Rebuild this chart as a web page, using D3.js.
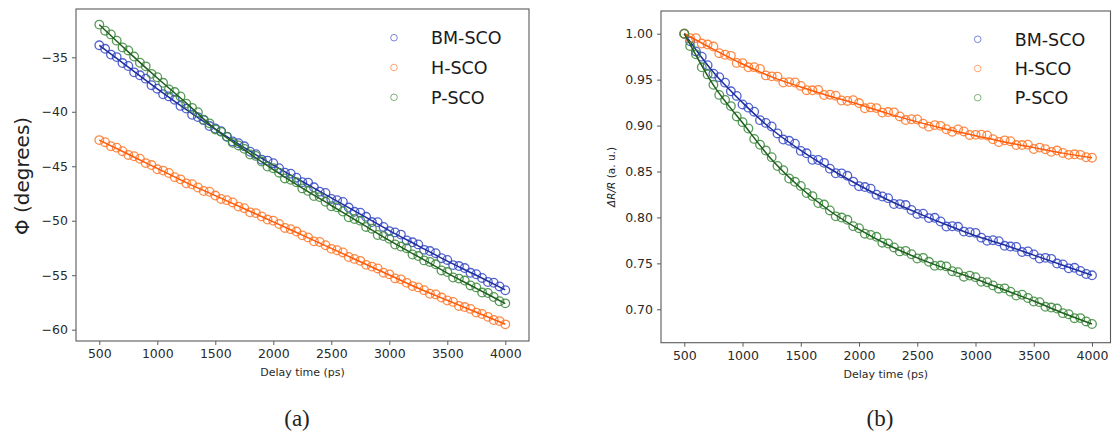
<!DOCTYPE html>
<html>
<head>
<meta charset="utf-8">
<script src="https://cdn.jsdelivr.net/npm/d3@7"></script>
<style>
  body { margin: 0; background: #fff; }
  svg { display: block; font-family: "DejaVu Sans", sans-serif; }
</style>
</head>
<body>
<svg id="chart" width="1113" height="440"></svg>
<script>
// delay times (ps) of the measured points
const delay = [500, 550, 600, 650, 700, 750, 800, 850, 900, 950,
  1000, 1050, 1100, 1150, 1200, 1250, 1300, 1350, 1400, 1450,
  1500, 1550, 1600, 1650, 1700, 1750, 1800, 1850, 1900, 1950,
  2000, 2050, 2100, 2150, 2200, 2250, 2300, 2350, 2400, 2450,
  2500, 2550, 2600, 2650, 2700, 2750, 2800, 2850, 2900, 2950,
  3000, 3050, 3100, 3150, 3200, 3250, 3300, 3350, 3400, 3450,
  3500, 3550, 3600, 3650, 3700, 3750, 3800, 3850, 3900, 3950, 4000];

const seriesNames = ["BM-SCO", "H-SCO", "P-SCO"];

// (a) rotation angle, degrees
const phiBM = [-33.90, -34.22, -34.75, -34.98, -35.53, -35.80, -36.38, -36.65, -36.96, -37.56,
  -37.88, -38.39, -38.59, -38.89, -39.46, -39.71, -40.28, -40.49, -40.77, -41.31,
  -41.54, -41.78, -42.30, -42.72, -42.88, -43.17, -43.67, -43.90, -44.40, -44.48,
  -44.72, -45.18, -45.59, -45.68, -46.05, -46.46, -46.50, -46.93, -47.33, -47.45,
  -48.00, -48.11, -48.28, -48.79, -49.18, -49.26, -49.64, -50.12, -50.13, -50.57,
  -50.95, -51.07, -51.27, -51.81, -51.98, -52.17, -52.67, -52.78, -52.98, -53.44,
  -53.60, -54.07, -54.16, -54.34, -54.78, -54.91, -55.25, -55.62, -55.69, -56.03, -56.38];
const phiH = [-42.60, -42.79, -43.16, -43.29, -43.62, -43.96, -44.08, -44.31, -44.71, -44.89,
  -45.28, -45.40, -45.62, -46.00, -46.20, -46.57, -46.65, -46.95, -47.27, -47.34,
  -47.69, -48.00, -48.11, -48.32, -48.70, -48.85, -49.23, -49.30, -49.60, -49.89,
  -49.99, -50.30, -50.66, -50.77, -50.99, -51.34, -51.53, -51.89, -51.95, -52.25,
  -52.58, -52.71, -52.91, -53.33, -53.50, -53.68, -54.05, -54.21, -54.38, -54.77,
  -54.92, -55.29, -55.38, -55.70, -56.00, -56.12, -56.37, -56.70, -56.76, -57.05,
  -57.32, -57.45, -57.82, -57.92, -58.09, -58.43, -58.56, -58.82, -59.11, -59.21, -59.51];
const phiP = [-32.00, -32.56, -32.90, -33.47, -34.09, -34.37, -34.93, -35.50, -35.83, -36.52,
  -36.83, -37.34, -37.95, -38.19, -38.59, -39.25, -39.64, -40.04, -40.72, -41.06,
  -41.62, -41.84, -42.28, -42.85, -43.09, -43.40, -43.92, -44.05, -44.57, -45.03,
  -45.18, -45.59, -46.12, -46.24, -46.47, -47.03, -47.26, -47.74, -47.83, -48.26,
  -48.67, -48.76, -49.15, -49.68, -49.84, -49.99, -50.57, -50.73, -51.31, -51.41,
  -51.66, -52.18, -52.37, -52.52, -53.10, -53.24, -53.64, -53.78, -54.00, -54.56,
  -54.71, -55.21, -55.31, -55.49, -55.94, -56.12, -56.59, -56.63, -57.00, -57.39, -57.58];

// (b) normalised reflectivity
const drBM = [1.0000, 0.9917, 0.9807, 0.9750, 0.9657, 0.9565, 0.9527, 0.9467, 0.9373, 0.9323,
  0.9230, 0.9195, 0.9151, 0.9059, 0.9029, 0.8990, 0.8914, 0.8848, 0.8834, 0.8803,
  0.8724, 0.8698, 0.8628, 0.8625, 0.8594, 0.8531, 0.8481, 0.8480, 0.8453, 0.8390,
  0.8340, 0.8331, 0.8313, 0.8247, 0.8228, 0.8210, 0.8146, 0.8145, 0.8135, 0.8081,
  0.8038, 0.8041, 0.7993, 0.7996, 0.7956, 0.7901, 0.7904, 0.7898, 0.7846, 0.7839,
  0.7832, 0.7780, 0.7746, 0.7752, 0.7741, 0.7691, 0.7683, 0.7679, 0.7623, 0.7630,
  0.7597, 0.7553, 0.7560, 0.7549, 0.7498, 0.7489, 0.7446, 0.7452, 0.7417, 0.7384, 0.7370];
const drH = [1.0000, 0.9951, 0.9952, 0.9893, 0.9882, 0.9860, 0.9788, 0.9771, 0.9759, 0.9682,
  0.9680, 0.9634, 0.9636, 0.9617, 0.9546, 0.9536, 0.9532, 0.9468, 0.9473, 0.9469,
  0.9432, 0.9385, 0.9384, 0.9389, 0.9333, 0.9336, 0.9325, 0.9273, 0.9268, 0.9276,
  0.9245, 0.9188, 0.9198, 0.9190, 0.9141, 0.9147, 0.9144, 0.9099, 0.9060, 0.9069,
  0.9066, 0.9020, 0.8988, 0.9005, 0.8997, 0.8960, 0.8932, 0.8957, 0.8936, 0.8898,
  0.8899, 0.8900, 0.8892, 0.8851, 0.8821, 0.8839, 0.8830, 0.8788, 0.8788, 0.8792,
  0.8745, 0.8760, 0.8742, 0.8714, 0.8728, 0.8702, 0.8681, 0.8687, 0.8681, 0.8655, 0.8650];
const drP = [1.0000, 0.9865, 0.9775, 0.9634, 0.9557, 0.9444, 0.9334, 0.9279, 0.9212, 0.9099,
  0.9037, 0.8968, 0.8855, 0.8791, 0.8728, 0.8656, 0.8560, 0.8514, 0.8424, 0.8388,
  0.8343, 0.8266, 0.8232, 0.8157, 0.8140, 0.8076, 0.8012, 0.7999, 0.7974, 0.7905,
  0.7883, 0.7823, 0.7810, 0.7789, 0.7725, 0.7716, 0.7673, 0.7630, 0.7636, 0.7599,
  0.7553, 0.7560, 0.7517, 0.7473, 0.7476, 0.7467, 0.7415, 0.7404, 0.7355, 0.7367,
  0.7350, 0.7300, 0.7295, 0.7260, 0.7224, 0.7228, 0.7192, 0.7149, 0.7159, 0.7123,
  0.7085, 0.7078, 0.7027, 0.7019, 0.7008, 0.6958, 0.6946, 0.6903, 0.6904, 0.6868, 0.6840];

// fitted curves, sampled every 250 ps
const fitDelay = [500, 750, 1000, 1250, 1500, 1750, 2000, 2250, 2500, 2750, 3000, 3250, 3500, 3750, 4000];
const phiFitBM = [-33.9, -35.9, -37.9, -39.8, -41.6, -43.3, -44.9, -46.4, -47.9, -49.4, -50.9, -52.3, -53.7, -55.0, -56.35];
const phiFitH = [-42.6, -43.9, -45.2, -46.5, -47.7, -48.9, -50.1, -51.32, -52.54, -53.76, -54.98, -56.2, -57.3, -58.4, -59.5];
const phiFitP = [-32.0, -34.5, -36.9, -39.2, -41.6, -43.5, -45.3, -47.0, -48.6, -50.2, -51.8, -53.3, -54.8, -56.2, -57.6];
const drFitBM = [1.000, 0.958, 0.925, 0.896, 0.873, 0.853, 0.835, 0.819, 0.805, 0.792, 0.780, 0.770, 0.759, 0.748, 0.737];
const drFitH = [1.000, 0.983, 0.967, 0.953, 0.942, 0.932, 0.923, 0.913, 0.904, 0.896, 0.889, 0.882, 0.876, 0.870, 0.865];
const drFitP = [1.000, 0.944, 0.903, 0.863, 0.832, 0.807, 0.787, 0.770, 0.756, 0.744, 0.733, 0.721, 0.709, 0.696, 0.684];

const delayTicks = [500, 1000, 1500, 2000, 2500, 3000, 3500, 4000];
const phiTicks = [-35, -40, -45, -50, -55, -60];
const drTicks = [1.00, 0.95, 0.90, 0.85, 0.80, 0.75, 0.70];

const pointColors = ["#3346c6", "#ff7526", "#3a873a"];
const lineColors = ["#1f2f9e", "#ff5a0a", "#1f5f1f"];

const svg = d3.select("#chart");

function drawPanel(opt) {
  const g = svg.append("g");
  const f = opt.frame;
  const x = d3.scaleLinear().domain([500, 4000]).range(opt.xRange);
  const y = d3.scaleLinear().domain(opt.yDomain).range(opt.yRange);

  opt.values.forEach((vals, i) => {
    g.append("g").selectAll("circle")
      .data(delay)
      .join("circle")
      .attr("cx", d => x(d))
      .attr("cy", (d, j) => y(vals[j]))
      .attr("r", 4.3)
      .attr("fill", "none")
      .attr("stroke", pointColors[i])
      .attr("stroke-opacity", 0.85)
      .attr("stroke-width", 1.3);

    const line = d3.line()
      .x(d => x(d))
      .y((d, j) => y(opt.fits[i][j]))
      .curve(d3.curveMonotoneX);
    g.append("path")
      .datum(fitDelay)
      .attr("d", line)
      .attr("fill", "none")
      .attr("stroke", lineColors[i])
      .attr("stroke-width", 1.5);
  });

  // frame
  g.append("rect")
    .attr("x", f.x0).attr("y", f.y0)
    .attr("width", f.x1 - f.x0).attr("height", f.y1 - f.y0)
    .attr("fill", "none")
    .attr("stroke", "#5a5a5a")
    .attr("stroke-width", 1.1);

  const xAxis = g.append("g")
    .attr("transform", `translate(0,${f.y1})`)
    .call(d3.axisBottom(x).tickValues(delayTicks).tickSize(4).tickPadding(4).tickFormat(d3.format("d")));
  const yAxis = g.append("g")
    .attr("transform", `translate(${f.x0},0)`)
    .call(d3.axisLeft(y).tickValues(opt.yTicks).tickSize(4).tickPadding(4).tickFormat(opt.yFormat));
  [xAxis, yAxis].forEach(a => {
    a.select(".domain").remove();
    a.selectAll(".tick line").attr("stroke", "#5a5a5a");
    a.selectAll(".tick text")
      .attr("fill", "#2a2a2a")
      .style("font-size", "12.5px")
      .style("font-family", "DejaVu Sans, sans-serif");
  });

  g.append("text")
    .attr("x", (f.x0 + f.x1) / 2)
    .attr("y", opt.xLabelY)
    .attr("text-anchor", "middle")
    .attr("fill", "#2a2a2a")
    .style("font-size", "11px")
    .text("Delay time (ps)");

  // legend
  seriesNames.forEach((name, i) => {
    const ly = opt.legend.y + i * opt.legend.dy;
    g.append("circle")
      .attr("cx", opt.legend.x).attr("cy", ly)
      .attr("r", 3.3)
      .attr("fill", "none")
      .attr("stroke", pointColors[i])
      .attr("stroke-opacity", 0.65)
      .attr("stroke-width", 1);
    g.append("text")
      .attr("x", opt.legend.x + 37)
      .attr("y", ly + 6.5)
      .attr("fill", "#1a1a1a")
      .style("font-size", "17.5px")
      .text(name);
  });

  g.append("text")
    .attr("x", opt.caption.x)
    .attr("y", opt.caption.y)
    .attr("text-anchor", "middle")
    .attr("fill", "#222")
    .style("font-family", "Liberation Serif, serif")
    .style("font-size", "23px")
    .text(opt.caption.text);

  return g;
}

// (a)
const ga = drawPanel({
  frame: { x0: 76, x1: 529, y0: 9, y1: 341 },
  xRange: [99.3, 505.3],
  yDomain: [-35, -60],
  yRange: [57.3, 329.7],
  yTicks: phiTicks,
  yFormat: d3.format("d"),
  values: [phiBM, phiH, phiP],
  fits: [phiFitBM, phiFitH, phiFitP],
  xLabelY: 376,
  legend: { x: 394, y: 37.7, dy: 29.8 },
  caption: { x: 297, y: 426, text: "(a)" }
});
ga.append("text")
  .attr("transform", "translate(29,176) rotate(-90)")
  .attr("text-anchor", "middle")
  .attr("fill", "#222")
  .style("font-size", "20px")
  .text("Φ (degrees)");

// (b)
const gb = drawPanel({
  frame: { x0: 661, x1: 1110.5, y0: 11, y1: 342.7 },
  xRange: [684.3, 1092],
  yDomain: [1.0, 0.7],
  yRange: [33.7, 309.3],
  yTicks: drTicks,
  yFormat: d3.format(".2f"),
  values: [drBM, drH, drP],
  fits: [drFitBM, drFitH, drFitP],
  xLabelY: 378,
  legend: { x: 977.7, y: 39.3, dy: 29.2 },
  caption: { x: 880, y: 426, text: "(b)" }
});
const yl = gb.append("text")
  .attr("transform", "translate(615,177) rotate(-90)")
  .attr("text-anchor", "middle")
  .attr("fill", "#222")
  .style("font-size", "10.5px");
yl.append("tspan").style("font-style", "italic").text("ΔR/R");
yl.append("tspan").text(" (a. u.)");
</script>
</body>
</html>
